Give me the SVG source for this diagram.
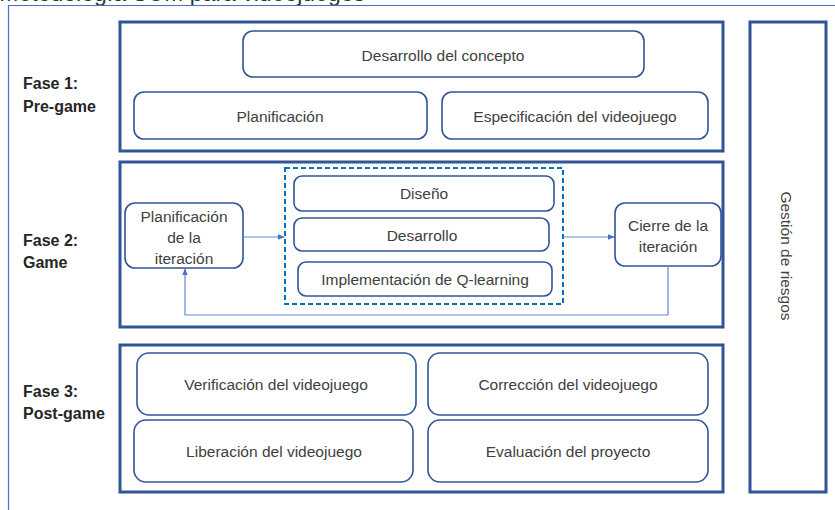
<svg xmlns="http://www.w3.org/2000/svg" width="835" height="510" viewBox="0 0 835 510">
<style>
.t{font-family:"Liberation Sans",Arial,sans-serif;font-size:15.5px;fill:#404040;text-anchor:middle;dominant-baseline:central}
.ph{font-family:"Liberation Sans",Arial,sans-serif;font-size:16px;font-weight:bold;fill:#262626}
.phase{fill:#fff;stroke:#2F5597;stroke-width:3}
.node{fill:#fff;stroke:#2F5597;stroke-width:1.6}
.conn{fill:none;stroke:#5B8BD9;stroke-width:1.2}
</style>
<defs>
<marker id="arr" viewBox="0 0 10 10" refX="9" refY="5" markerWidth="6" markerHeight="6" orient="auto">
<path d="M0,1 L10,5 L0,9 z" fill="#4472C4"/>
</marker>
</defs>
<rect width="835" height="510" fill="#fff"/>
<text x="365" y="1" font-family="Liberation Sans,Arial,sans-serif" font-size="23" fill="#333" text-anchor="end">Metodología SUM para videojuegos</text>
<path d="M8.5,510 V5.5 H835" fill="none" stroke="#4472C4" stroke-width="1.2"/>

<g id="fase1">
<rect class="phase" x="120" y="22" width="603" height="129"/>
<text class="ph" x="23" y="89">Fase 1:</text>
<text class="ph" x="23" y="112">Pre-game</text>
</g>
<g id="fase2">
<rect class="phase" x="120" y="162" width="603" height="165"/>
<text class="ph" x="23" y="246">Fase 2:</text>
<text class="ph" x="23" y="268">Game</text>
</g>
<g id="fase3">
<rect class="phase" x="120" y="345" width="603" height="147"/>
<text class="ph" x="23" y="397">Fase 3:</text>
<text class="ph" x="23" y="419">Post-game</text>
</g>
<g id="gestion">
<rect class="phase" x="750" y="22" width="76" height="470"/>
<text class="t" transform="translate(786,256) rotate(90)" x="0" y="0">Gestión de riesgos</text>
</g>

<g id="desarrollo-concepto"><rect class="node" x="243" y="31" width="401" height="46" rx="10"/><text class="t" x="443" y="55">Desarrollo del concepto</text></g>
<g id="planificacion"><rect class="node" x="134" y="92" width="293" height="47" rx="10"/><text class="t" x="280" y="116">Planificación</text></g>
<g id="especificacion"><rect class="node" x="442" y="92" width="266" height="47" rx="10"/><text class="t" x="575" y="116">Especificación del videojuego</text></g>

<g id="planif-iteracion"><rect class="node" x="125" y="203" width="118" height="65" rx="10"/>
<text class="t" x="184" y="216">Planificación</text><text class="t" x="184" y="237">de la</text><text class="t" x="184" y="258">iteración</text></g>
<g id="grupo"><rect x="285" y="168" width="278" height="136" fill="none" stroke="#0070C0" stroke-width="2" stroke-dasharray="5,3"/></g>
<g id="diseno"><rect class="node" x="294" y="176" width="260" height="35" rx="8"/><text class="t" x="424" y="193">Diseño</text></g>
<g id="desarrollo"><rect class="node" x="294" y="218" width="255" height="33" rx="8"/><text class="t" x="422" y="235">Desarrollo</text></g>
<g id="qlearning"><rect class="node" x="298" y="262" width="254" height="34" rx="8"/><text class="t" x="425" y="279">Implementación de Q-learning</text></g>
<g id="cierre"><rect class="node" x="615" y="203" width="106" height="63" rx="10"/>
<text class="t" x="668" y="225">Cierre de la</text><text class="t" x="668" y="246">iteración</text></g>

<g id="verificacion"><rect class="node" x="137" y="353" width="279" height="62" rx="12"/><text class="t" x="276" y="384">Verificación del videojuego</text></g>
<g id="liberacion"><rect class="node" x="134" y="420" width="279" height="62" rx="12"/><text class="t" x="274" y="451">Liberación del videojuego</text></g>
<g id="correccion"><rect class="node" x="428" y="353" width="280" height="62" rx="12"/><text class="t" x="568" y="384">Corrección del videojuego</text></g>
<g id="evaluacion"><rect class="node" x="428" y="420" width="280" height="62" rx="12"/><text class="t" x="568" y="451">Evaluación del proyecto</text></g>

<g id="connectors">
<path class="conn" d="M243,237 H284" marker-end="url(#arr)"/>
<path class="conn" d="M563,237 H614" marker-end="url(#arr)"/>
<path class="conn" d="M668,266 V315 H185 V269" marker-end="url(#arr)"/>
</g>
</svg>
